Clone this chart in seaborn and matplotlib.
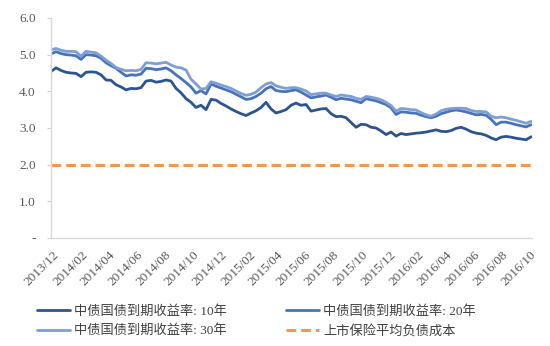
import numpy as np
import pandas as pd
import matplotlib
matplotlib.use("Agg")
import matplotlib.pyplot as plt
import matplotlib.dates as mdates
from matplotlib.ticker import FixedLocator, FixedFormatter
import seaborn as sns

# Observation dates (roughly every 10.8 days)
dates = pd.date_range("2013-11-27", "2016-10-03", periods=97)

# ChinaBond government bond yields to maturity (%)
yield_10y = [
    4.54, 4.64, 4.57, 4.52, 4.50, 4.49, 4.40, 4.52, 4.53, 4.52,
    4.45, 4.31, 4.30, 4.18, 4.12, 4.04, 4.08, 4.07, 4.10, 4.28,
    4.30, 4.25, 4.27, 4.31, 4.28, 4.08, 3.96, 3.80, 3.70, 3.56,
    3.62, 3.50, 3.78, 3.76, 3.67, 3.60, 3.52, 3.45, 3.39, 3.34,
    3.41, 3.47, 3.56, 3.70, 3.52, 3.41, 3.45, 3.50, 3.62, 3.68,
    3.62, 3.64, 3.46, 3.49, 3.52, 3.53, 3.39, 3.31, 3.32, 3.28,
    3.15, 3.02, 3.10, 3.09, 3.02, 3.00, 2.92, 2.82, 2.89, 2.78,
    2.85, 2.82, 2.84, 2.86, 2.87, 2.89, 2.92, 2.95, 2.91, 2.90,
    2.93, 2.99, 3.02, 2.97, 2.90, 2.86, 2.84, 2.80, 2.73, 2.68,
    2.75, 2.77, 2.75, 2.72, 2.70, 2.68, 2.76,
]
yield_20y = [
    5.02, 5.08, 5.03, 5.00, 4.99, 4.97, 4.87, 5.00, 4.99, 4.97,
    4.90, 4.78, 4.70, 4.63, 4.52, 4.42, 4.45, 4.44, 4.47, 4.63,
    4.62, 4.59, 4.61, 4.64, 4.56, 4.45, 4.35, 4.24, 4.12, 3.95,
    4.02, 3.93, 4.20, 4.14, 4.09, 4.04, 3.99, 3.92, 3.85, 3.78,
    3.80, 3.86, 3.95, 4.07, 4.13, 4.02, 4.00, 3.99, 4.02, 4.04,
    3.98, 3.90, 3.82, 3.85, 3.87, 3.90, 3.84, 3.77, 3.81, 3.79,
    3.77, 3.73, 3.69, 3.80, 3.77, 3.74, 3.69, 3.64, 3.55, 3.37,
    3.44, 3.43, 3.41, 3.40, 3.35, 3.31, 3.28, 3.32, 3.39, 3.43,
    3.47, 3.49, 3.47, 3.44, 3.40, 3.36, 3.37, 3.35, 3.24, 3.09,
    3.16, 3.16, 3.13, 3.09, 3.06, 3.03, 3.09,
]
yield_30y = [
    5.13, 5.17, 5.12, 5.09, 5.09, 5.08, 4.96, 5.09, 5.07, 5.05,
    4.96, 4.85, 4.76, 4.65, 4.60, 4.56, 4.57, 4.56, 4.60, 4.78,
    4.77, 4.75, 4.77, 4.79, 4.72, 4.66, 4.64, 4.58, 4.33, 4.20,
    4.06, 4.08, 4.26, 4.22, 4.17, 4.13, 4.08, 4.01, 3.94, 3.89,
    3.92, 3.98, 4.10, 4.20, 4.24, 4.15, 4.11, 4.08, 4.10, 4.10,
    4.06, 4.01, 3.91, 3.93, 3.95, 3.95, 3.90, 3.86, 3.90, 3.88,
    3.86, 3.81, 3.78, 3.86, 3.84, 3.81, 3.77, 3.70, 3.61, 3.46,
    3.53, 3.52, 3.50, 3.49, 3.42, 3.36, 3.32, 3.38, 3.47, 3.51,
    3.53, 3.54, 3.54, 3.53, 3.48, 3.45, 3.45, 3.44, 3.32, 3.28,
    3.30, 3.28, 3.24, 3.21, 3.17, 3.13, 3.18,
]
# Average liability cost of listed insurers (%)
liability_cost = 2.0

series_names = [
    "中债国债到期收益率: 10年",
    "中债国债到期收益率: 20年",
    "中债国债到期收益率: 30年",
]
cost_name = "上市保险平均负债成本"

y_ticks = [0, 1, 2, 3, 4, 5, 6]
y_tick_labels = ["-", "1.0", "2.0", "3.0", "4.0", "5.0", "6.0"]

sns.set_theme(style="white")
plt.rcParams["font.family"] = ["Liberation Serif", "Noto Sans CJK SC", "DejaVu Sans"]

df = pd.DataFrame({
    "date": np.tile(dates, 3),
    "value": yield_10y + yield_20y + yield_30y,
    "series": np.repeat(series_names, len(dates)),
})
cost_df = pd.DataFrame({"date": dates, "value": [liability_cost] * len(dates)})

palette = {
    series_names[0]: "#2D5492",
    series_names[1]: "#4673BA",
    series_names[2]: "#7E9ED6",
}
cost_color = "#F79646"

fig = plt.figure(figsize=(5.5, 3.46), dpi=100)
ax = fig.add_axes([51 / 550, 1 - 238 / 346, (532 - 51) / 550, (238 - 18) / 346])

sns.lineplot(data=df, x="date", y="value", hue="series", palette=palette,
             linewidth=2.0, ax=ax, legend=False)
sns.lineplot(data=cost_df, x="date", y="value", color=cost_color,
             linewidth=2.2, ax=ax, legend=False)
ax.lines[-1].set_dashes([3.2, 1.6])

ax.set_xlim(pd.Timestamp("2013-11-27"), pd.Timestamp("2016-10-05"))
ax.set_ylim(0, 6)
ax.set_xlabel("")
ax.set_ylabel("")

ax.xaxis.set_major_locator(mdates.MonthLocator(bymonth=[2, 4, 6, 8, 10, 12]))
ax.xaxis.set_major_formatter(mdates.DateFormatter("%Y/%m"))
ax.yaxis.set_major_locator(FixedLocator(y_ticks))
ax.yaxis.set_major_formatter(FixedFormatter(y_tick_labels))

for lab in ax.get_xticklabels():
    lab.set_rotation(45)
    lab.set_ha("right")
    lab.set_rotation_mode("anchor")

ax.tick_params(axis="x", length=0, pad=8, labelsize=9.5, labelcolor="#595959")
ax.tick_params(axis="y", length=3, width=0.8, color="#D0D0D0", pad=8,
               labelsize=9.5, labelcolor="#595959", left=True)

for side in ("top", "right"):
    ax.spines[side].set_visible(False)
for side in ("left", "bottom"):
    ax.spines[side].set_color("#D9D9D9")
    ax.spines[side].set_linewidth(1.0)
ax.grid(False)

# Legend: two columns, filled row by row
handles = [
    plt.Line2D([], [], color=palette[series_names[0]], lw=2.0),
    plt.Line2D([], [], color=palette[series_names[2]], lw=2.0),
    plt.Line2D([], [], color=palette[series_names[1]], lw=2.0),
    plt.Line2D([], [], color=cost_color, lw=2.2, dashes=[3.2, 1.6]),
]
labels = [series_names[0], series_names[2], series_names[1], cost_name]
leg = fig.legend(handles, labels, ncol=2, loc="upper left",
                 bbox_to_anchor=(32 / 550, 1 - 300 / 346), frameon=False,
                 borderaxespad=0, handlelength=2.5, handletextpad=0.3,
                 columnspacing=4.5, labelspacing=0.5,
                 prop={"family": ["Liberation Serif", "Noto Sans CJK SC"], "size": 9.5})
for t in leg.get_texts():
    t.set_color("#404040")

fig.savefig("out.png", dpi=100)
